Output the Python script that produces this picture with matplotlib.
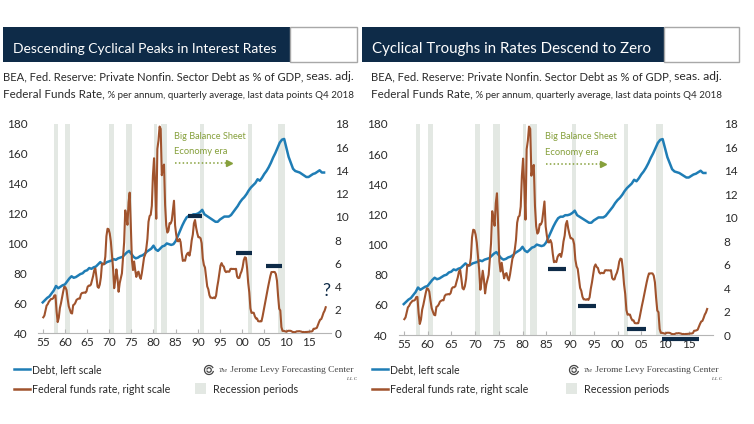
import matplotlib
matplotlib.use("Agg")
import matplotlib.pyplot as plt
import numpy as np
from matplotlib.lines import Line2D
from matplotlib.patches import Arc, Rectangle

plt.rcParams["font.family"] = ["Lato", "DejaVu Sans"]
SERIF = ["Liberation Serif", "DejaVu Serif"]

# Federal funds rate, % p.a., quarterly averages 1955Q1..2018Q4
fed_funds = [
    1.35, 1.50, 1.94, 2.36,  2.48, 2.69, 2.81, 2.93,  2.93, 3.00, 3.23, 3.25,
    1.86, 0.94, 1.32, 2.16,  2.57, 3.08, 3.58, 3.99,  3.93, 3.70, 2.94, 2.30,
    2.00, 1.73, 1.68, 2.40,  2.46, 2.61, 2.85, 2.92,  2.97, 2.96, 3.33, 3.45,
    3.46, 3.49, 3.46, 3.58,  3.97, 4.08, 4.07, 4.17,  4.56, 4.91, 5.41, 5.56,
    4.82, 3.99, 3.89, 4.17,  4.79, 5.98, 5.94, 5.92,  6.57, 8.33, 8.98, 8.94,
    8.57, 7.88, 6.70, 5.57,  3.86, 4.57, 5.48, 4.75,  3.55, 4.30, 4.74, 5.14,
    6.54, 7.82, 10.56, 10.00,  9.32, 11.25, 12.09, 9.35,  6.30, 5.42, 6.16, 5.41,
    4.83, 5.20, 5.28, 4.87,  4.66, 5.16, 5.82, 6.51,  6.76, 7.28, 8.10, 9.58,
    10.07, 10.18, 10.95, 13.58,  15.05, 12.69, 9.84, 15.85,  16.57, 17.78, 17.58, 13.59,
    14.23, 14.51, 11.01, 9.29,  8.65, 8.80, 9.46, 9.43,  9.69, 10.56, 11.39, 9.27,
    8.48, 7.92, 7.90, 8.10,  7.83, 6.92, 6.21, 6.27,  6.22, 6.65, 6.84, 6.92,
    6.66, 7.16, 7.98, 8.47,  9.44, 9.73, 9.08, 8.61,  8.25, 8.24, 8.16, 7.74,
    6.43, 5.86, 5.64, 4.82,  4.02, 3.77, 3.26, 3.04,  3.04, 3.00, 3.06, 2.99,
    3.21, 3.94, 4.49, 5.17,  5.81, 6.02, 5.80, 5.72,  5.36, 5.24, 5.31, 5.28,
    5.28, 5.52, 5.53, 5.51,  5.52, 5.50, 5.53, 4.86,  4.73, 4.75, 5.09, 5.31,
    5.68, 6.27, 6.52, 6.47,  5.59, 4.33, 3.50, 2.13,  1.73, 1.75, 1.74, 1.44,
    1.25, 1.25, 1.02, 1.00,  1.00, 1.01, 1.43, 1.95,  2.47, 2.94, 3.46, 3.98,
    4.46, 4.91, 5.25, 5.25,  5.26, 5.25, 5.07, 4.50,  3.18, 2.09, 1.94, 0.51,
    0.18, 0.18, 0.16, 0.12,  0.13, 0.19, 0.19, 0.19,  0.16, 0.09, 0.08, 0.07,
    0.10, 0.15, 0.14, 0.16,  0.14, 0.12, 0.08, 0.09,  0.07, 0.09, 0.09, 0.10,
    0.11, 0.13, 0.13, 0.16,  0.36, 0.37, 0.40, 0.45,  0.70, 0.95, 1.15, 1.20,
    1.45, 1.74, 1.92, 2.22,
]
fed_funds_x = 1955.125 + np.arange(len(fed_funds)) / 4

# Private nonfinancial sector debt, % of GDP, half-yearly readings 1955.0..2018.5
debt_x = np.arange(1955.0, 2019.0, 0.5)
debt = [
    60.5, 62.0, 63.5, 64.5, 66.5, 68.5, 71.5, 70.0, 71.0, 72.0,
    72.5, 74.5, 76.5, 78.0, 77.0, 77.5, 78.5, 79.5, 80.0, 81.5,
    82.0, 83.5, 83.0, 84.0, 84.5, 86.0, 87.5, 86.0, 86.5, 87.5,
    88.0, 88.5, 89.5, 89.0, 90.0, 90.5, 91.0, 92.5, 94.0, 95.0,
    93.0, 91.0, 90.0, 90.5, 91.5, 92.0, 93.0, 94.5, 95.5, 96.5,
    98.5, 96.0, 95.0, 96.5, 98.0, 98.5, 100.0, 99.5, 99.0, 99.5,
    101.5, 105.0, 108.5, 112.0, 115.0, 117.5, 118.5, 118.5, 119.5, 119.5,
    120.0, 121.0, 122.5, 119.5, 118.5, 117.5, 116.5, 115.5, 114.5, 114.5,
    116.0, 117.0, 118.0, 118.0, 118.0, 119.0, 121.0, 123.0, 125.0, 127.5,
    129.5, 131.0, 133.0, 135.5, 137.5, 139.0, 140.5, 143.0, 142.0, 144.0,
    146.5, 148.5, 151.0, 154.0, 157.5, 160.5, 164.0, 167.5, 169.5, 170.0,
    164.0, 158.0, 154.0, 150.0, 148.5, 148.0, 147.5, 146.5, 145.5, 144.5,
    144.5, 145.5, 146.5, 147.0, 148.0, 149.0, 147.5, 147.5,
]

recessions = [
    (1957.5, 1958.4), (1960.1, 1961.2), (1970.0, 1971.0), (1973.8, 1975.2),
    (1980.1, 1980.8), (1981.6, 1983.0), (1990.5, 1991.3), (2001.4, 2002.2),
    (2008.1, 2009.6),
]

# cyclical peaks (left panel) and troughs (right panel): start, end, level
peak_bars = [(1987.8, 1991.0, 10.1), (1998.7, 2002.3, 6.9), (2005.4, 2009.0, 5.8)]
trough_bars = [(1985.3, 1989.2, 5.6), (1991.6, 1995.5, 2.5),
               (2002.0, 2005.9, 0.5), (2009.4, 2017.1, -0.35)]

year_ticks = list(range(1955, 2020, 5))
year_labels = ["55", "60", "65", "70", "75", "80", "85", "90", "95",
               "00", "05", "10", "15"]

NAVY = "#0e2b48"
BLUE = "#1f7db5"
BROWN = "#a0532d"
GREEN = "#86a03c"
REC = "#e3e8e3"
TXT = "#2a2a2a"

W, H = 754, 424
fig = plt.figure(figsize=(W / 100, H / 100), dpi=100)
renderer = fig.canvas.get_renderer()


def fx(x):
    return x / W


def fy(y):
    return 1 - y / H


def fit(text, width):
    """Scale a text's font size so it spans `width` pixels."""
    w = text.get_window_extent(renderer).width
    text.set_fontsize(text.get_fontsize() * width / w)
    return text


def after(anchor, s, width, size, **kw):
    t = fig.text(0, 0, s, fontsize=size, va="baseline", ha="left", **kw)
    fit(t, width)
    bb = anchor.get_window_extent(renderer)
    t.set_position((bb.x1 / W, anchor.get_position()[1]))
    return t


def draw_panel(left, right, top, bottom, title, box, title_w, bars, question,
               leg_x, rec_x, logo_x, rpad):
    # title bar
    fig.add_artist(Rectangle((fx(box[0]), fy(62)), (box[1] - box[0]) / W, 35 / H,
                             transform=fig.transFigure, facecolor=NAVY, edgecolor="none"))
    fig.add_artist(Rectangle((fx(box[1]), fy(61.5)), (box[2] - box[1]) / W, 34 / H,
                             transform=fig.transFigure, facecolor="white",
                             edgecolor="#a8a8a8", lw=1.0))
    fit(fig.text(fx(box[0] + 10), fy(53.3), title, color="white", fontsize=12,
                 va="baseline", ha="left"), title_w)

    sx = box[0] if box[0] < 100 else box[0] + 9
    t1 = fit(fig.text(fx(sx), fy(80), "BEA, Fed. Reserve: Private Nonfin. Sector Debt as % of GDP,",
                      fontsize=10, color=TXT, va="baseline"), 300)
    after(t1, " seas. adj.", 51, 8, color=TXT)
    t2 = fit(fig.text(fx(sx), fy(97.7), "Federal Funds Rate,", fontsize=10, color=TXT,
                      va="baseline"), 101)
    after(t2, " % per annum, quarterly average, last data points Q4 2018", 252, 8, color=TXT)

    ax = fig.add_axes([fx(left), fy(bottom), (right - left) / W, (bottom - top) / H])
    ax.patch.set_alpha(0)
    ax.set_xlim(1954, 2020)
    ax.set_ylim(40, 180)
    for s, e in recessions:
        ax.axvspan(s, e, color=REC, lw=0, zorder=0)
    ax.plot(debt_x, debt, color=BLUE, lw=1.8, zorder=3)
    ax.set_yticks(range(40, 181, 20))
    ax.set_xticks(year_ticks)
    ax.set_xticklabels(year_labels)
    for sp in ["top", "left", "right"]:
        ax.spines[sp].set_visible(False)
    ax.spines["bottom"].set_color("#b5b5b5")
    ax.spines["bottom"].set_linewidth(0.8)
    ax.tick_params(axis="x", direction="in", length=3, color="#b5b5b5",
                   labelsize=8.5, labelcolor=TXT, pad=3)
    ax.tick_params(axis="y", length=0, labelsize=8.5, labelcolor=TXT, pad=8)

    ax2 = ax.twinx()
    ax2.set_ylim(0, 18)
    ax2.set_yticks(range(0, 19, 2))
    ax2.plot(fed_funds_x, fed_funds, color=BROWN, lw=1.5, zorder=2)
    for sp in ax2.spines.values():
        sp.set_visible(False)
    ax2.tick_params(axis="y", length=0, labelsize=8.5, labelcolor=TXT, pad=rpad)
    for s, e, lvl in bars:
        ax2.plot([s, e], [lvl, lvl], color=NAVY, lw=3, solid_capstyle="butt",
                 clip_on=False, zorder=5)
    if question:
        ax2.text(2019.0, 2.9, "?", color=NAVY, fontsize=13, ha="center", va="bottom")

    g1 = ax2.text(1984.7, 16.68, "Big Balance Sheet", color=GREEN, fontsize=8.5,
                  ha="left", va="baseline")
    fit(g1, 72)
    g2 = ax2.text(1984.7, 15.39, "Economy era", color=GREEN, fontsize=8.5,
                  ha="left", va="baseline")
    fit(g2, 54)
    ax2.plot([1984.9, 1996.6], [14.6, 14.6], color=GREEN, lw=1.1, ls=(0, (1, 1.5)))
    ax2.plot([1997.0], [14.6], marker=">", color=GREEN, markersize=5, lw=0)

    # legend
    fig.add_artist(Line2D([fx(leg_x), fx(leg_x + 16)], [fy(368.5)] * 2, color=BLUE, lw=1.8))
    fig.add_artist(Line2D([fx(leg_x), fx(leg_x + 16)], [fy(389)] * 2, color=BROWN, lw=1.8))
    fit(fig.text(fx(leg_x + 18), fy(373), "Debt, left scale", fontsize=9.5, color=TXT,
                 va="baseline"), 70)
    fit(fig.text(fx(leg_x + 18), fy(393.3), "Federal funds rate, right scale", fontsize=9.5,
                 color=TXT, va="baseline"), 139)
    fig.add_artist(Rectangle((fx(rec_x), fy(394)), 11 / W, 11 / H, transform=fig.transFigure,
                             facecolor=REC, edgecolor="none"))
    fit(fig.text(fx(rec_x + 18), fy(393.3), "Recession periods", fontsize=9.5, color=TXT,
                 va="baseline"), 85)
    # logo
    fig.add_artist(Arc((fx(logo_x + 4), fy(370)), 9 / W, 9 / H, theta1=40, theta2=340,
                       transform=fig.transFigure, color="#444", lw=0.9))
    fig.add_artist(Arc((fx(logo_x + 4), fy(370)), 4.5 / W, 4.5 / H, theta1=200, theta2=520,
                       transform=fig.transFigure, color="#444", lw=0.9))
    lt = fit(fig.text(fx(logo_x + 14), fy(372), "The", fontsize=5.5, style="italic",
                      family=SERIF, color="#444", va="baseline"), 9)
    after(lt, " Jerome Levy Forecasting Center", 125, 8.5, family=SERIF, color="#444")
    fig.text(fx(logo_x + 152), fy(380), "L L C", fontsize=3.5, style="italic",
             family=SERIF, color="#444", ha="right", va="baseline")
    return ax, ax2


draw_panel(38.3, 330.7, 124, 333, "Descending Cyclical Peaks in Interest Rates",
           (3, 290, 357), 264, peak_bars, True, 14, 195, 205, 3)
draw_panel(399.0, 712.5, 124, 335, "Cyclical Troughs in Rates Descend to Zero",
           (362, 664, 739), 277, trough_bars, False, 372, 566, 570, 8)

fig.savefig("out.png", dpi=100)
